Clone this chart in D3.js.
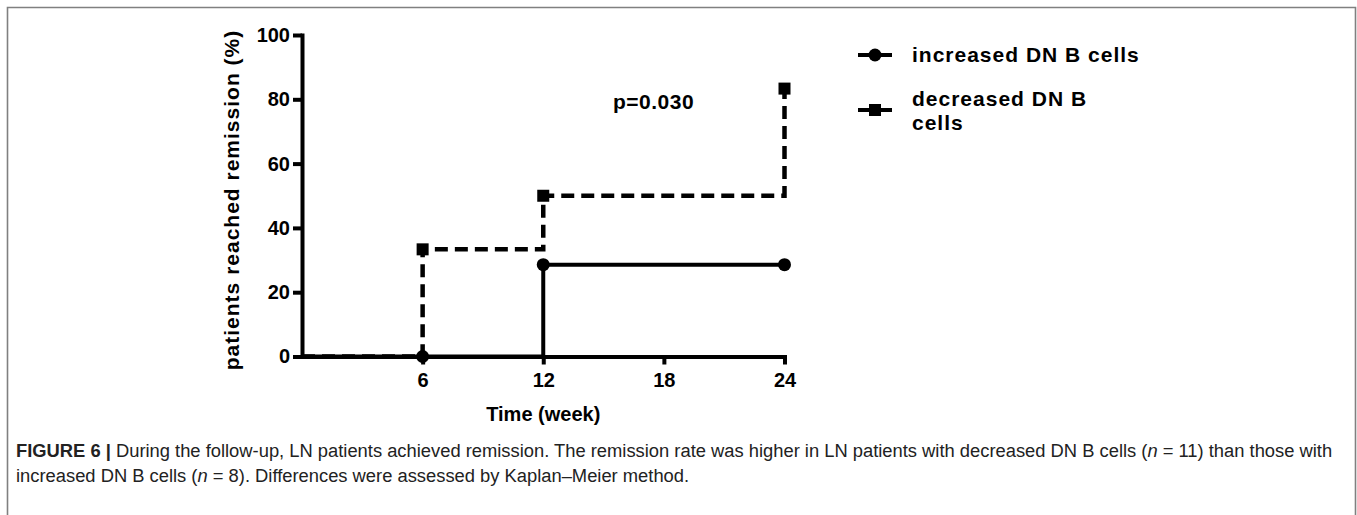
<!DOCTYPE html>
<meta charset="UTF-8">
<style>
  body { margin: 0; background: #fff; }
  svg { display: block; font-family: "Liberation Sans", Arial, sans-serif; }
  .axis path, .axis line { stroke: #000; stroke-width: 4px; }
  .axis text { font-size: 20px; font-weight: bold; fill: #000; }
  .lbl { font-weight: bold; fill: #000; }
</style>
<body>
<script src="https://cdn.jsdelivr.net/npm/d3@7"></script>
<script>

// data
var weeks = [6, 12, 24];
var increased = [0, 28.57, 28.57];   // % in remission, increased DN B cells
var decreased = [33.33, 50, 83.33];  // % in remission, decreased DN B cells
var xTicks = [6, 12, 18, 24];
var yTicks = [0, 20, 40, 60, 80, 100];
var seriesNames = ["increased DN B cells", "decreased DN B cells"];

var W = 1357, H = 515;

var svg = d3.select("body").append("svg")
    .attr("width", W)
    .attr("height", H);

// outer frame (no bottom edge visible)
svg.append("path")
    .attr("d", "M7.5," + H + " L7.5,7.5 L1355.5,7.5 L1355.5," + H)
    .attr("fill", "none")
    .attr("stroke", "#808080")
    .attr("stroke-width", 1.6);

var x = d3.scaleLinear().domain([0, 24]).range([302, 784.5]);
var y = d3.scaleLinear().domain([0, 100]).range([356.5, 35]);

// step lines, starting from (0,0)
var stepLine = d3.line()
    .x(function(d) { return x(d[0]); })
    .y(function(d) { return y(d[1]); })
    .curve(d3.curveStepAfter);

var incPts = [[0, 0]].concat(weeks.map(function(w, i) { return [w, increased[i]]; }));
var decPts = [[0, 0]].concat(weeks.map(function(w, i) { return [w, decreased[i]]; }));

svg.append("path")
    .attr("d", stepLine(decPts))
    .attr("fill", "none")
    .attr("stroke", "#000")
    .attr("stroke-width", 4.5)
    .attr("stroke-dasharray", "13,7");

svg.append("path")
    .attr("d", stepLine(incPts))
    .attr("fill", "none")
    .attr("stroke", "#000")
    .attr("stroke-width", 4);

// axes
svg.append("g")
    .attr("class", "axis")
    .attr("transform", "translate(0," + y(0) + ")")
    .call(d3.axisBottom(x).tickValues(xTicks).tickSize(8).tickSizeOuter(0).tickPadding(8.5));

svg.append("g")
    .attr("class", "axis")
    .attr("transform", "translate(" + x(0) + ",0)")
    .call(d3.axisLeft(y).tickValues(yTicks).tickSize(9).tickSizeOuter(0).tickPadding(3));

svg.selectAll(".axis .domain").attr("stroke-linecap", "square");
svg.selectAll(".axis").attr("font-family", null).attr("font-size", null);

// markers
svg.selectAll("circle.inc")
    .data(weeks)
    .enter().append("circle")
    .attr("class", "inc")
    .attr("cx", function(d) { return x(d); })
    .attr("cy", function(d, i) { return y(increased[i]); })
    .attr("r", 6.5)
    .attr("fill", "#000");

var sq = 12;
svg.selectAll("rect.dec")
    .data(weeks)
    .enter().append("rect")
    .attr("class", "dec")
    .attr("x", function(d) { return x(d) - sq / 2; })
    .attr("y", function(d, i) { return y(decreased[i]) - sq / 2; })
    .attr("width", sq)
    .attr("height", sq)
    .attr("fill", "#000");

// axis titles
svg.append("text")
    .attr("class", "lbl")
    .attr("transform", "translate(239," + 200 + ") rotate(-90)")
    .attr("text-anchor", "middle")
    .style("font-size", "21px")
    .style("letter-spacing", "1px")
    .text("patients reached remission (%)");

svg.append("text")
    .attr("class", "lbl")
    .attr("x", (x(0) + x(24)) / 2)
    .attr("y", 421)
    .attr("text-anchor", "middle")
    .style("font-size", "20px")
    .text("Time (week)");

svg.append("text")
    .attr("class", "lbl")
    .attr("x", 613)
    .attr("y", 109)
    .style("font-size", "21px")
    .style("letter-spacing", "0.5px")
    .text("p=0.030");

// legend
var leg = svg.append("g");
leg.append("line").attr("x1", 858).attr("x2", 892).attr("y1", 55).attr("y2", 55)
    .attr("stroke", "#000").attr("stroke-width", 4);
leg.append("circle").attr("cx", 875).attr("cy", 55).attr("r", 6.5).attr("fill", "#000");
leg.append("line").attr("x1", 858).attr("x2", 892).attr("y1", 110).attr("y2", 110)
    .attr("stroke", "#000").attr("stroke-width", 4);
leg.append("rect").attr("x", 875 - sq / 2).attr("y", 110 - sq / 2)
    .attr("width", sq).attr("height", sq).attr("fill", "#000");

leg.append("text").attr("class", "lbl")
    .attr("x", 912).attr("y", 62)
    .style("font-size", "21px").style("letter-spacing", "1px")
    .text(seriesNames[0]);
var t2 = leg.append("text").attr("class", "lbl")
    .style("font-size", "21px").style("letter-spacing", "1px");
t2.append("tspan").attr("x", 912).attr("y", 106).text("decreased DN B");
t2.append("tspan").attr("x", 912).attr("y", 130).text("cells");

// caption
var cap1 = svg.append("text").attr("x", 16).attr("y", 457).attr("fill", "#222");
cap1.append("tspan").attr("font-weight", "bold").text("FIGURE 6 | ");
cap1.append("tspan").text("During the follow-up, LN patients achieved remission. The remission rate was higher in LN patients with decreased DN B cells (");
cap1.append("tspan").attr("font-style", "italic").text("n");
cap1.append("tspan").text(" = 11) than those with");

var cap2 = svg.append("text").attr("x", 16).attr("y", 482).attr("fill", "#222");
cap2.append("tspan").text("increased DN B cells (");
cap2.append("tspan").attr("font-style", "italic").text("n");
cap2.append("tspan").text(" = 8). Differences were assessed by Kaplan\u2013Meier method.");

// fit caption line 1 to the width it has in the figure
cap1.attr("font-size", 16);
var w16 = cap1.node().getComputedTextLength();
var fs = 16 * 1317 / w16;
cap1.attr("font-size", fs);
cap2.attr("font-size", fs);

</script>
</body>
